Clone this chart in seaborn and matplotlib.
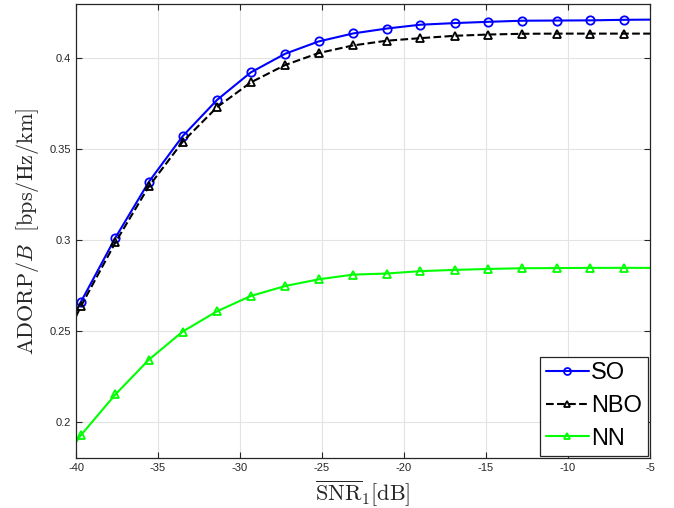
import seaborn as sns
import matplotlib.pyplot as plt
import pandas as pd
from matplotlib.lines import Line2D

# SNR grid: line end points (-40, -5) plus the marked points in between
snr = [-40.0, -39.7, -37.6, -35.55, -33.5, -31.4, -29.35, -27.25, -25.2, -23.1,
       -21.05, -19.0, -16.9, -14.85, -12.8, -10.7, -8.65, -6.6, -5.0]

so = [0.2610, 0.2660, 0.3013, 0.3322, 0.3572, 0.3772, 0.3923, 0.4026, 0.4094,
      0.4138, 0.4165, 0.4186, 0.4195, 0.4202, 0.4208, 0.4209, 0.4210, 0.4213, 0.4214]
nbo = [0.2580, 0.2636, 0.2987, 0.3297, 0.3541, 0.3732, 0.3868, 0.3964, 0.4030,
       0.4072, 0.4098, 0.4112, 0.4125, 0.4132, 0.4136, 0.4137, 0.4137, 0.4137, 0.4137]
nn = [0.1888, 0.1926, 0.2150, 0.2342, 0.2496, 0.2608, 0.2692, 0.2747, 0.2784,
      0.2810, 0.2816, 0.2829, 0.2836, 0.2841, 0.2845, 0.2846, 0.2847, 0.2847, 0.2847]

labels = ["SO", "NBO", "NN"]
colors = ["#0000FF", "#000000", "#00FF00"]
markers = ["o", "^", "^"]
styles = ["-", "--", "-"]

df = pd.DataFrame({"snr": snr, "SO": so, "NBO": nbo, "NN": nn})

sns.set_style("whitegrid")
plt.rcParams["font.family"] = ["Liberation Sans", "DejaVu Sans"]
plt.rcParams["mathtext.fontset"] = "cm"
plt.rcParams["axes.unicode_minus"] = False

fig = plt.figure(figsize=(6.74, 5.08), dpi=100)
ax = fig.add_axes([0.1128, 0.0984, 0.8516, 0.8937])

mark_idx = list(range(1, len(snr) - 1))
for name, c, m, ls in zip(labels, colors, markers, styles):
    sns.lineplot(data=df, x="snr", y=name, ax=ax, color=c, linestyle=ls,
                 linewidth=1.5, marker=m, markersize=6, markevery=mark_idx,
                 markerfacecolor="none", markeredgecolor=c, markeredgewidth=1.3)

ax.set_xlim(-40, -5)
ax.set_ylim(0.18, 0.43)
ax.set_xticks(range(-40, 0, 5))
ax.set_yticks([0.2, 0.25, 0.3, 0.35, 0.4])
ax.set_yticklabels(["0.2", "0.25", "0.3", "0.35", "0.4"])
ax.grid(True, color="#e3e3e3", linewidth=0.8)
ax.tick_params(direction="in", length=4, labelsize=8, colors="#262626",
               top=True, right=True, bottom=True, left=True)
for s in ax.spines.values():
    s.set_color("#262626")
    s.set_linewidth(0.9)

ax.set_xlabel(r"$\overline{\mathrm{SNR}}_1[\mathrm{dB}]$", fontsize=16, labelpad=4)
ax.set_ylabel(r"$\mathrm{ADORP}/B\ \ [\mathrm{bps/Hz/km}]$", fontsize=16, labelpad=6)

handles = [Line2D([], [], color=c, linestyle=ls, linewidth=1.5, marker=m,
                  markersize=5, markerfacecolor="none", markeredgecolor=c,
                  markeredgewidth=1.3)
           for c, m, ls in zip(colors, markers, styles)]
leg = ax.legend(handles, labels, loc="lower right", fontsize=17, frameon=True,
                fancybox=False, borderaxespad=0.1, handlelength=1.8,
                handletextpad=0.1, labelspacing=0.45, borderpad=0.25,
                labelcolor="black")
leg.get_frame().set_edgecolor("#262626")
leg.get_frame().set_linewidth(0.9)
leg.get_frame().set_alpha(1)

fig.savefig("out.png", dpi=100)
